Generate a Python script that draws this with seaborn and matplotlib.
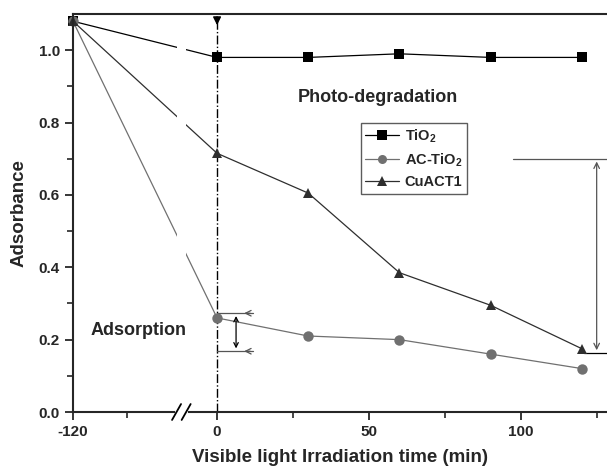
import numpy as np
import pandas as pd
import seaborn as sns
import matplotlib
matplotlib.use("Agg")
import matplotlib.pyplot as plt
# --------------------------------------------------------------------------------------------------
# Data
time_min = [-120, 0, 30, 60, 90, 120]
tio2 = [1.08, 0.98, 0.98, 0.99, 0.98, 0.98]
ac_tio2 = [1.08, 0.26, 0.21, 0.20, 0.16, 0.12]
cuact1 = [1.08, 0.715, 0.605, 0.385, 0.295, 0.175]
series_names = ["TiO$_2$", "AC-TiO$_2$", "CuACT1"]
x_ticks = [-120, 0, 50, 100]
x_minor = [-75, 25, 75, 125]
y_ticks = [0.0, 0.2, 0.4, 0.6, 0.8, 1.0]
# --------------------------------------------------------------------------------------------------
# Long-form table for seaborn
df = pd.DataFrame({
    "time": time_min * 3,
    "absorbance": tio2 + ac_tio2 + cuact1,
    "sample": [n for n in series_names for _ in time_min],
})

sns.set_style("ticks")
plt.rcParams["font.family"] = ["Liberation Sans", "DejaVu Sans"]
plt.rcParams["font.weight"] = "bold"
plt.rcParams["mathtext.fontset"] = "custom"
plt.rcParams["mathtext.rm"] = "Liberation Sans:bold"
plt.rcParams["mathtext.default"] = "rm"

fig = plt.figure(figsize=(6.07, 4.73), dpi=100)
ax = fig.add_axes([73 / 607, 61 / 473, 534 / 607, 398 / 473])

# broken x axis: the dark period (-120..0) is squeezed
squeeze = 47.4 / 120
def fwd(x):
    x = np.asarray(x, dtype=float)
    return np.where(x < 0, x * squeeze, x)
def inv(x):
    x = np.asarray(x, dtype=float)
    return np.where(x < 0, x / squeeze, x)
ax.set_xscale("function", functions=(fwd, inv))

palette = {series_names[0]: "#000000", series_names[1]: "#707070", series_names[2]: "#2e2e2e"}
markers = {series_names[0]: "s", series_names[1]: "o", series_names[2]: "^"}
sns.lineplot(data=df, x="time", y="absorbance", hue="sample", style="sample",
             palette=palette, markers=markers, dashes=False, markersize=7.5,
             markeredgewidth=0, linewidth=0.9, ax=ax, clip_on=False, zorder=3)

# gap in the lines at the axis break
ax.axvspan(-33.4, -25.8, color="white", zorder=3.5, lw=0)

ax.set_xlim(-120, 128.3)
ax.set_ylim(0, 1.10)
ax.set_xticks(x_ticks)
ax.set_xticklabels([str(t) for t in x_ticks])
ax.set_xticks(x_minor, minor=True)
ax.set_yticks(y_ticks)
ax.set_yticks(np.arange(0.1, 1.1, 0.2), minor=True)
ax.set_yticklabels([f"{t:.1f}" for t in y_ticks])
ax.tick_params(axis="both", which="major", labelsize=11, length=6, width=1.3, direction="out")
ax.tick_params(axis="both", which="minor", length=4, width=1.2, direction="out")
for s in ["left", "bottom", "top"]:
    ax.spines[s].set_linewidth(1.5)
    ax.spines[s].set_zorder(5)
ax.spines["right"].set_visible(False)

ax.set_xlabel("Visible light Irradiation time (min)", fontsize=13.5, fontweight="bold", labelpad=7)
ax.set_ylabel("Adsorbance", fontsize=13.5, fontweight="bold", labelpad=8)

# break marks on the x axis
trans = ax.get_xaxis_transform()
ax.plot([-33.4, -25.8], [0, 0], color="white", lw=3, transform=trans, clip_on=False, zorder=6)
for xb in [-37.5, -29.5]:
    ax.plot([xb, xb + 7.5], [-0.02, 0.02], color="black", lw=1.3, transform=trans,
            clip_on=False, zorder=7)

# light switched on at t = 0
ax.axvline(0, color="black", ls="-.", lw=1, zorder=2)
ax.annotate("", xy=(0, 0.965), xytext=(0, 1.0), xycoords=trans, textcoords=trans,
            arrowprops=dict(arrowstyle="-|>", color="black", lw=1, mutation_scale=12))

# adsorption span marks
for yv in [0.273, 0.168]:
    ax.plot([0, 11.8], [yv, yv], color="#555555", lw=0.9)
    ax.annotate("", xy=(8.0, yv), xytext=(11.8, yv),
                arrowprops=dict(arrowstyle="->", color="#555555", lw=0.9, mutation_scale=10))
ax.annotate("", xy=(6.25, 0.168), xytext=(6.25, 0.273),
            arrowprops=dict(arrowstyle="<->", color="black", lw=0.9, mutation_scale=8))

# photo-degradation span marks
ax.plot([97.4, 128.3], [0.70, 0.70], color="#555555", lw=0.9, clip_on=False)
ax.plot([120.7, 128.3], [0.163, 0.163], color="black", lw=0.9, clip_on=False)
ax.annotate("", xy=(124.9, 0.163), xytext=(124.9, 0.70),
            arrowprops=dict(arrowstyle="<->", color="#555555", lw=0.9, mutation_scale=10))

ax.text(0.571, 0.789, "Photo-degradation", transform=ax.transAxes, ha="center", va="center",
        fontsize=13, fontweight="bold", zorder=8)
ax.text(0.122, 0.206, "Adsorption", transform=ax.transAxes, ha="center", va="center",
        fontsize=13, fontweight="bold", zorder=8)

handles, labels = ax.get_legend_handles_labels()
for h in handles:
    h.set_markersize(6.5)
leg = ax.legend(handles, labels, loc="upper left", bbox_to_anchor=(0.539, 0.726),
                fontsize=10.5, frameon=True, fancybox=False, edgecolor="#333333",
                handlelength=2.3, handletextpad=0.4, borderpad=0.3, labelspacing=0.45,
                borderaxespad=0)
leg.get_frame().set_linewidth(1.0)
leg.set_zorder(9)

fig.savefig("out.png", dpi=100)
